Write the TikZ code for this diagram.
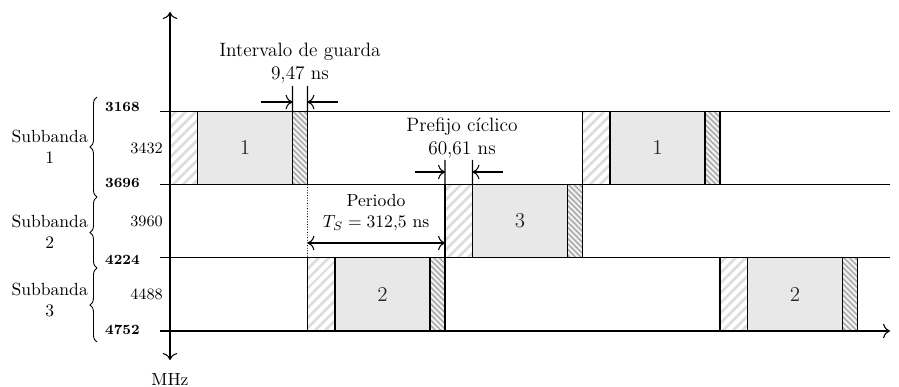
\documentclass[tikz,border=0pt]{standalone}
\usetikzlibrary{positioning,patterns.meta,decorations.pathreplacing,arrows.meta}

\tikzset{
	>={To[scale=1.35]},
	linea/.style={line width=0.6pt},
	prefijo/.style={shape=rectangle, draw, line width=0.6pt, inner sep=0pt, outer sep=0pt, minimum width=0.55cm, minimum height=1.465cm, pattern={Lines[angle=45,distance=4pt,line width=1.6pt]}, pattern color=black!13},
	datos/.style={shape=rectangle, draw, line width=0.6pt, inner sep=0pt, outer sep=0pt, minimum width=1.9cm, minimum height=1.465cm, fill=black!9, text=black!85, font=\large},
	guarda/.style={shape=rectangle, draw, line width=0.6pt, inner sep=0pt, outer sep=0pt, minimum width=0.3cm, minimum height=1.465cm, preaction={fill=black!6}, pattern={Lines[angle=-45,distance=2.2pt,line width=0.8pt]}, pattern color=black!35},
	llave/.style={decorate, decoration={brace, amplitude=4pt}, line width=0.5pt},
	frec/.style={anchor=east, font=\small},
	limite/.style={anchor=west, font=\footnotesize\bfseries},
	rotulo/.style={align=center, font=\fontsize{11}{13}\selectfont},
}

\begin{document}
\begin{tikzpicture}
	\useasboundingbox (-3.4,-1.12) rectangle (14.58,6.62);
	% Ejes y lineas de las subbandas:
	\coordinate (ejeS) at (0,-0.58);
	\coordinate (ejeN) at (0,6.38);
	\draw[linea, <->] (ejeS) -- (ejeN);
	\node[anchor=center] (mhz) at (0,-0.98){MHz};
	\draw[linea] (-0.2,4.395) -- (14.4,4.395);
	\draw[linea] (-0.2,2.93) -- (14.4,2.93);
	\draw[linea] (-0.2,1.465) -- (14.4,1.465);
	\draw[linea, ->] (-0.2,0) -- (14.4,0);
	% Simbolos OFDM:
	\node[prefijo] (cp1) at (0.275,3.6625){};
	\node[datos, right=0pt of cp1] (s1){1};
	\node[guarda, right=0pt of s1] (gi1){};
	\node[prefijo] (cp2) at (3.025,0.7325){};
	\node[datos, right=0pt of cp2] (s2){2};
	\node[guarda, right=0pt of s2] (gi2){};
	\node[prefijo] (cp3) at (5.775,2.1975){};
	\node[datos, right=0pt of cp3] (s3){3};
	\node[guarda, right=0pt of s3] (gi3){};
	\node[prefijo] (cp4) at (8.525,3.6625){};
	\node[datos, right=0pt of cp4] (s4){1};
	\node[guarda, right=0pt of s4] (gi4){};
	\node[prefijo] (cp5) at (11.275,0.7325){};
	\node[datos, right=0pt of cp5] (s5){2};
	\node[guarda, right=0pt of s5] (gi5){};
	% Frecuencias:
	\node[frec] (f1) at (-0.02,3.6625){3432};
	\node[frec] (f2) at (-0.02,2.1975){3960};
	\node[frec] (f3) at (-0.02,0.7325){4488};
	\node[limite] (l1) at (-1.42,4.48){3168};
	\node[limite] (l2) at (-1.42,2.96){3696};
	\node[limite] (l3) at (-1.42,1.42){4224};
	\node[limite] (l4) at (-1.42,0.02){4752};
	% Subbandas:
	\draw[llave] (-1.46,2.68) -- (-1.46,4.68);
	\draw[llave] (-1.46,1.26) -- (-1.46,2.68);
	\draw[llave] (-1.46,-0.22) -- (-1.46,1.26);
	\node[anchor=east, align=center] (sb1) at (-1.52,3.68){Subbanda\\1};
	\node[anchor=east, align=center] (sb2) at (-1.52,1.98){Subbanda\\2};
	\node[anchor=east, align=center] (sb3) at (-1.52,0.62){Subbanda\\3};
	% Intervalo de guarda:
	\coordinate (ig1) at (2.45,4.9);
	\coordinate (ig2) at (2.75,4.9);
	\coordinate (fg1) at (1.82,4.58);
	\coordinate (fg2) at (3.36,4.58);
	\draw[linea] (gi1.north west) -- (ig1);
	\draw[linea] (gi1.north east) -- (ig2);
	\draw[linea, ->] (fg1) -- (fg1 -| gi1.west);
	\draw[linea, ->] (fg2) -- (fg2 -| gi1.east);
	\node[rotulo] (tg) at (2.6,5.36){Intervalo de guarda\\9,47 ns};
	% Prefijo ciclico:
	\coordinate (pc1) at (5.5,3.42);
	\coordinate (pc2) at (6.05,3.42);
	\coordinate (fp1) at (4.9,3.18);
	\coordinate (fp2) at (6.66,3.18);
	\draw[linea] (cp3.north west) -- (pc1);
	\draw[linea] (cp3.north east) -- (pc2);
	\draw[linea, ->] (fp1) -- (fp1 -| cp3.west);
	\draw[linea, ->] (fp2) -- (fp2 -| cp3.east);
	\node[rotulo] (tp) at (5.84,3.86){Prefijo cíclico\\60,61 ns};
	% Periodo:
	\coordinate (pe1) at (2.75,1.76);
	\coordinate (pe2) at (5.5,1.76);
	\draw[densely dotted, line width=0.5pt] (gi1.south east) -- (cp2.north west);
	\draw[linea, <->] (pe1) -- (pe2);
	\node[align=center] (tpe) at (4.12,2.36){Periodo\\$T_S = 312{,}5$ ns};
\end{tikzpicture}
\end{document}
